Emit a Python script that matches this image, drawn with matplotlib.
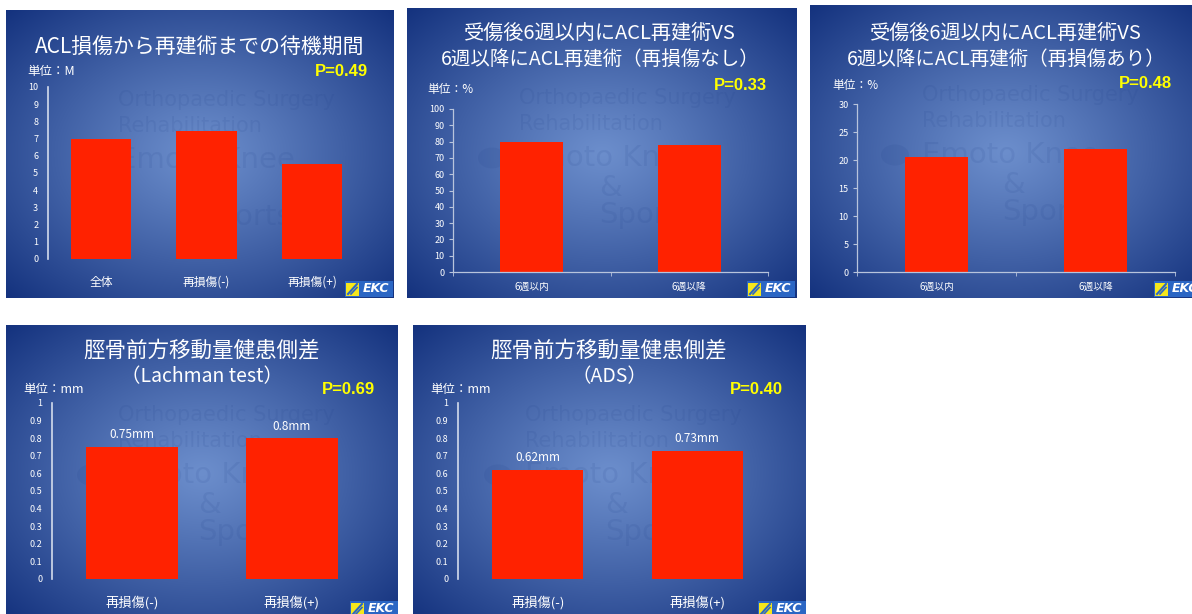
import matplotlib
matplotlib.use('Agg')
import matplotlib.pyplot as plt
import matplotlib.patches as mpatches
import numpy as np

W, H = 1192, 614
JP = ['Noto Sans CJK JP', 'DejaVu Sans']
plt.rcParams['font.family'] = JP

# data
wait_cats = ['全体', '再損傷(-)', '再損傷(+)']
wait_months = [7.0, 7.45, 5.5]

timing_cats = ['6週以内', '6週以降']
no_rerupture_pct = [79.5, 78.0]
rerupture_pct = [20.5, 21.9]

shift_cats = ['再損傷(-)', '再損傷(+)']
lachman_mm = [0.75, 0.8]
ads_mm = [0.62, 0.73]

p_values = ['P=0.49', 'P=0.33', 'P=0.48', 'P=0.69', 'P=0.40']

BAR = '#ff2200'

fig = plt.figure(figsize=(W / 100, H / 100), dpi=100)
fig.patch.set_facecolor('white')


def px_axes(x0, y0, x1, y1, z=1):
    return fig.add_axes([x0 / W, 1 - y1 / H, (x1 - x0) / W, (y1 - y0) / H], zorder=z)


def ptext(x, y, s, **kw):
    fig.text(x / W, 1 - y / H, s, **kw)


def slide(x0, y0, x1, y1):
    ax = px_axes(x0, y0, x1, y1, z=0)
    ny, nx = 200, 260
    yy, xx = np.mgrid[0:1:ny * 1j, 0:1:nx * 1j]
    r = np.sqrt(((xx - 0.5) / 0.5) ** 2 + ((yy - 0.5) / 0.5) ** 2) / np.sqrt(2)
    r = np.clip(r, 0, 1) ** 1.1
    c0 = np.array([108, 142, 204]) / 255
    c1 = np.array([20, 50, 126]) / 255
    img = c0[None, None, :] * (1 - r[..., None]) + c1[None, None, :] * r[..., None]
    ax.imshow(img, extent=[0, 1, 0, 1], aspect='auto', interpolation='bilinear')
    ax.set_xlim(0, 1)
    ax.set_ylim(0, 1)
    ax.axis('off')
    # very faint watermark behind the chart
    wm = dict(color='#1c3c86', alpha=0.1, ha='left', va='center', family='DejaVu Sans')
    w, h = x1 - x0, y1 - y0
    ax.text(112 / w, 1 - 90 / h, 'Orthopaedic Surgery', fontsize=15, **wm)
    ax.text(112 / w, 1 - 116 / h, 'Rehabilitation', fontsize=15, **wm)
    ax.text(112 / w, 1 - 150 / h, 'Emoto Knee', fontsize=21, **wm)
    ax.text(192 / w, 1 - 180 / h, '&', fontsize=21, **wm)
    ax.text(192 / w, 1 - 207 / h, 'Sports', fontsize=21, **wm)
    ax.add_patch(mpatches.Circle((85 / w, 1 - 150 / h), 14 / w, transform=ax.transAxes,
                                 facecolor='#1c3c86', alpha=0.1, edgecolor='none'))
    return ax


def logo(x, y):
    ax = px_axes(x, y, x + 48, y + 16, z=5)
    ax.set_xlim(0, 48)
    ax.set_ylim(0, 16)
    ax.axis('off')
    ax.add_patch(mpatches.Rectangle((0, 0), 48, 16, facecolor='#2b66c4', edgecolor='none'))
    ax.add_patch(mpatches.Rectangle((1, 1.5), 13, 13, facecolor='#f5e71c', edgecolor='none'))
    ax.plot([3, 12], [3, 13], color='#2b66c4', lw=1.5)
    ax.plot([6, 12], [3, 9.5], color='#2b66c4', lw=1.2)
    ax.text(31, 8.5, 'EKC', color='white', fontsize=9, fontweight='bold', style='italic',
            ha='center', va='center', family='DejaVu Sans')


def excel_style(ax, ymax, ystep, labelsize, catsize):
    ax.set_facecolor('none')
    for s in ['top', 'right']:
        ax.spines[s].set_visible(False)
    for s in ['left', 'bottom']:
        ax.spines[s].set_color('#b8c4dc')
        ax.spines[s].set_linewidth(0.9)
    ax.set_ylim(0, ymax)
    ax.set_yticks(np.arange(0, ymax + ystep / 2, ystep))
    ax.tick_params(axis='y', colors='#b8c4dc', labelcolor='white', labelsize=labelsize,
                   length=3, direction='out', pad=3)
    ax.tick_params(axis='x', length=0, labelcolor='white', labelsize=catsize, pad=7)
    ax.set_xticks([-0.5, 0.5, 1.5], minor=True)
    ax.tick_params(axis='x', which='minor', length=3, color='#b8c4dc')


def ppt_style(ax, ymax, ystep, labelsize, catsize, fmt):
    ax.set_facecolor('none')
    for s in ['top', 'right', 'bottom']:
        ax.spines[s].set_visible(False)
    ax.spines['left'].set_color('#d4dcec')
    ax.spines['left'].set_linewidth(1.2)
    ax.set_ylim(0, ymax)
    ticks = np.arange(0, ymax + ystep / 2, ystep)
    ax.set_yticks(ticks)
    ax.set_yticklabels([fmt(t) for t in ticks])
    ax.tick_params(axis='y', length=0, labelcolor='white', labelsize=labelsize, pad=7)
    ax.tick_params(axis='x', length=0, labelcolor='white', labelsize=catsize, pad=12)


# ---- panel 1: waiting period ----
slide(6, 10, 394, 298)
ptext(200, 47, 'ACL損傷から再建術までの待機期間', color='white', fontsize=15, ha='center', va='center')
ptext(27, 71, '単位：M', color='white', fontsize=9, ha='left', va='center')
ptext(368, 72, p_values[0], color='#ffff00', fontsize=12, fontweight='bold', ha='right',
      va='center', family='Liberation Sans')
ax1 = px_axes(48, 87, 365, 259, z=2)
ax1.bar(range(len(wait_cats)), wait_months, width=0.57, color=BAR)
ppt_style(ax1, 10, 1, 6.5, 8.5, lambda t: f'{t:.0f}')
ax1.set_xlim(-0.5, 2.5)
ax1.set_xticks(range(len(wait_cats)))
ax1.set_xticklabels(wait_cats)
logo(345, 281)

# ---- panel 2: timing, no re-rupture ----
slide(407, 8, 797, 298)
ptext(600, 33, '受傷後6週以内にACL再建術VS', color='white', fontsize=14.5, ha='center', va='center')
ptext(600, 59, '6週以降にACL再建術（再損傷なし）', color='white', fontsize=14, ha='center', va='center')
ptext(427, 90, '単位：%', color='white', fontsize=8.5, ha='left', va='center')
ptext(767, 85, p_values[1], color='#ffff00', fontsize=12, fontweight='bold', ha='right',
      va='center', family='Liberation Sans')
ax2 = px_axes(453, 109, 768, 272, z=2)
ax2.bar(range(len(timing_cats)), no_rerupture_pct, width=0.4, color=BAR)
excel_style(ax2, 100, 10, 6.5, 7)
ax2.set_xlim(-0.5, 1.5)
ax2.set_xticks(range(len(timing_cats)))
ax2.set_xticklabels(timing_cats)
logo(747, 281)

# ---- panel 3: timing, re-rupture ----
slide(810, 5, 1200, 298)
ptext(1006, 33, '受傷後6週以内にACL再建術VS', color='white', fontsize=14.5, ha='center', va='center')
ptext(1006, 59, '6週以降にACL再建術（再損傷あり）', color='white', fontsize=14, ha='center', va='center')
ptext(832, 86, '単位：%', color='white', fontsize=8.5, ha='left', va='center')
ptext(1172, 84, p_values[2], color='#ffff00', fontsize=12, fontweight='bold', ha='right',
      va='center', family='Liberation Sans')
ax3 = px_axes(857, 104, 1175, 272, z=2)
ax3.bar(range(len(timing_cats)), rerupture_pct, width=0.4, color=BAR)
excel_style(ax3, 30, 5, 6.5, 7)
ax3.set_xlim(-0.5, 1.5)
ax3.set_xticks(range(len(timing_cats)))
ax3.set_xticklabels(timing_cats)
logo(1154, 281)

# ---- panels 4 and 5: anterior tibial translation ----
for (x0, x1, sub, vals, pv, ax_x0, ax_x1, cx) in [
        (6, 397, '（Lachman test）', lachman_mm, p_values[3], 52, 372, 202),
        (413, 805, '（ADS）', ads_mm, p_values[4], 458, 777, 609)]:
    slide(x0, 325, x1, 620)
    ptext(cx, 350, '脛骨前方移動量健患側差', color='white', fontsize=15.5, ha='center', va='center')
    ptext(cx, 377, sub, color='white', fontsize=14, ha='center', va='center')
    ptext(x0 + 17, 390, '単位：mm', color='white', fontsize=9, ha='left', va='center')
    ptext(x1 - 22, 389, pv, color='#ffff00', fontsize=12, fontweight='bold', ha='right',
          va='center', family='Liberation Sans')
    ax = px_axes(ax_x0, 403, ax_x1, 579, z=2)
    ax.bar(range(len(shift_cats)), vals, width=0.57, color=BAR)
    ppt_style(ax, 1, 0.1, 6.5, 9.5, lambda t: f'{t:.1f}' if 0 < t < 0.95 else f'{t:.0f}')
    ax.set_xlim(-0.5, 1.5)
    ax.set_xticks(range(len(shift_cats)))
    ax.set_xticklabels(shift_cats)
    for i, v in enumerate(vals):
        ax.annotate(f'{v:g}mm', (i, v), xytext=(0, 4), textcoords='offset points',
                    ha='center', va='bottom', color='white', fontsize=8.5)
    logo(x1 - 47, 601)

fig.savefig('out.png', dpi=100, facecolor='white')
